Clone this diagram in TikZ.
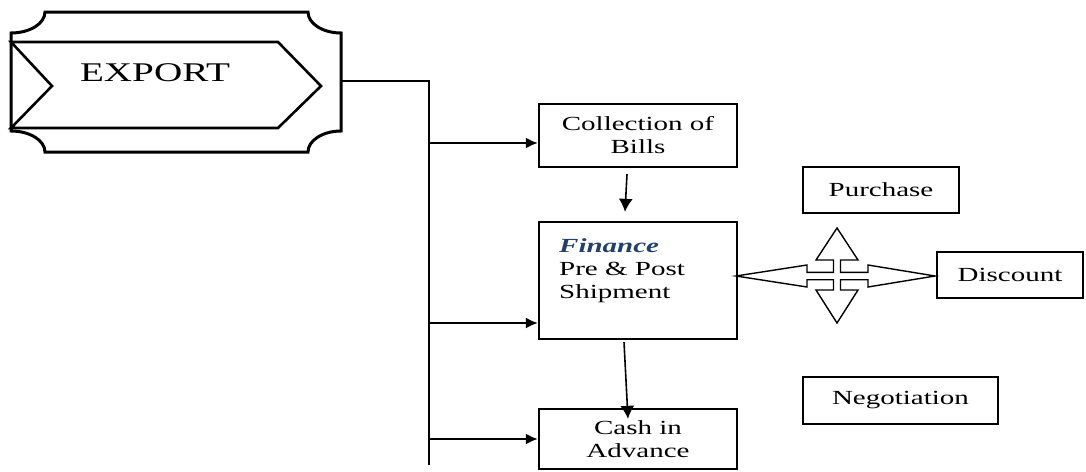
\documentclass[tikz,border=0pt]{standalone}
\usepackage{fontspec}
\setmainfont{Liberation Serif}[FakeStretch=1.45]
\usetikzlibrary{arrows.meta,calc}
\definecolor{finblue}{RGB}{35,64,106}
\begin{document}
\begin{tikzpicture}[x=1pt,y=-1pt,
  box/.style={draw, line width=2.3pt, inner sep=0pt, align=center, font=\fontsize{20}{23}\selectfont},
  link/.style={line width=2pt, -{Latex[length=12pt,width=11pt]}},
  downlink/.style={line width=1.6pt, -{Latex[length=13pt,width=14pt]}},
  bus/.style={line width=1.3pt},
  plaque/.style={line width=3pt, line join=miter},
  quad/.style={line width=1.4pt, line join=miter}]
\useasboundingbox (0,0) rectangle (1086,471);

% EXPORT plaque
\draw[plaque] (11,33) arc[start angle=90,end angle=0,x radius=34,y radius=21]
  -- (308,12) arc[start angle=180,end angle=90,x radius=33,y radius=21]
  -- (341,131) arc[start angle=270,end angle=180,x radius=33,y radius=21]
  -- (45,152) arc[start angle=360,end angle=270,x radius=34,y radius=21]
  -- cycle;
\draw[line width=2.6pt, line join=miter] (11,42) -- (278,42) -- (321,86) -- (278,128) -- (11,128) -- (52,86) -- cycle;
\node[anchor=base, inner sep=0pt, font=\fontsize{27}{30}\selectfont] (export) at (155,81) {EXPORT};

% boxes
\node[box, minimum width=198pt, minimum height=63pt] (col) at (638,135.5) {Collection of\\Bills};
\node[box, minimum width=198pt, minimum height=117pt] (fin) at (638,280.5) {};
\node[anchor=north west, inner sep=0pt, align=left, font=\fontsize{20}{23}\selectfont] (fintext) at (559,238)
  {\textcolor{finblue}{\textbf{\textit{Finance}}}\\Pre \& Post\\Shipment};
\node[box, minimum width=198pt, minimum height=60pt] (cash) at (638,439) {Cash in\\Advance};
\node[box, minimum width=156pt, minimum height=46pt] (pur) at (881,190) {Purchase};
\node[box, minimum width=146pt, minimum height=46pt] (dis) at (1010,275) {Discount};
\node[box, minimum width=195pt, minimum height=47pt] (neg) at (900.5,400.5) {Negotiation};

% bus
\coordinate (expR) at (341,81);
\coordinate (busEnd) at (429,465);
\coordinate (b1) at (429,143);
\coordinate (b2) at (429,323);
\coordinate (b3) at (429,439);
\draw[bus] (expR) -| (busEnd);
\draw[link] (b1) -- (b1 -| col.west);
\draw[link] (b2) -- (b2 -| fin.west);
\draw[link] (b3) -- (b3 -| cash.west);

% vertical arrows
\draw[downlink] ($(col.south)+(-11,6)$) -- ($(fin.north)+(-13,-9)$);
\draw[downlink] ($(fin.south)+(-14,2)$) -- ($(cash.north)+(-10,11)$);

% quad arrow between Finance and Discount
\coordinate (qc) at (837,276);
\begin{scope}[shift={(qc)}]
\draw[quad] (-101,0) -- (-30,-11) -- (-30,-3.7) -- (-3.5,-3.7) -- (-3.5,-16) -- (-21,-16) -- (0,-48)
  -- (21,-16) -- (3.5,-16) -- (3.5,-3.7) -- (31,-3.7) -- (31,-11) -- (98,0) -- (31,11) -- (31,3.7)
  -- (3.5,3.7) -- (3.5,14) -- (21,14) -- (0,47) -- (-21,14) -- (-3.5,14) -- (-3.5,3.7) -- (-30,3.7)
  -- (-30,11) -- cycle;
\end{scope}
\end{tikzpicture}
\end{document}
